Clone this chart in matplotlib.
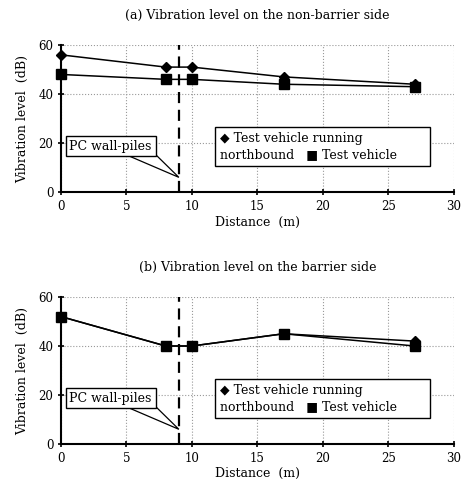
import numpy as np
import matplotlib.pyplot as plt
from matplotlib.patches import Polygon

distance = [0, 8, 10, 17, 27]
# (a) non-barrier side
a_north = [56, 51, 51, 47, 44]
a_test = [48, 46, 46, 44, 43]
# (b) barrier side
b_north = [52, 40, 40, 45, 42]
b_test = [52, 40, 40, 45, 40]

titles = ['(a) Vibration level on the non-barrier side',
          '(b) Vibration level on the barrier side']
wall_x = 9

plt.rcParams['font.family'] = ['DejaVu Serif', 'DejaVu Sans']

fig = plt.figure(figsize=(4.69, 4.95), dpi=100)
ax_a = fig.add_axes([0.130, 0.612, 0.838, 0.297])
ax_b = fig.add_axes([0.130, 0.103, 0.838, 0.297])

for ax, north, test, title in [(ax_a, a_north, a_test, titles[0]),
                               (ax_b, b_north, b_test, titles[1])]:
    ax.plot(distance, north, color='black', lw=1.1, marker='D', ms=5.5,
            zorder=3, clip_on=False)
    ax.plot(distance, test, color='black', lw=1.1, marker='s', ms=7,
            zorder=3, clip_on=False)
    ax.set_xlim(0, 30)
    ax.set_ylim(0, 60)
    ax.set_xticks(np.arange(0, 31, 5))
    ax.set_yticks([0, 20, 40, 60])
    ax.grid(True, color='#999999', linestyle=':', linewidth=0.8)
    for s in ['top', 'right']:
        ax.spines[s].set_visible(False)
    for s in ['left', 'bottom']:
        ax.spines[s].set_linewidth(1.5)
    ax.tick_params(labelsize=8.5, width=1.2, length=4, direction='inout')
    ax.set_xlabel('Distance  (m)', fontsize=9, labelpad=2)
    ax.set_ylabel('Vibration level  (dB)', fontsize=9, labelpad=7)
    ax.set_title(title, fontsize=9, pad=19)
    ax.axvline(wall_x, color='black', lw=1.6, ls=(0, (5, 3)), zorder=2)

    # callout pointing at the wall
    ax.add_patch(Polygon([(4.2, 17), (6.9, 17), (wall_x, 6)], closed=True,
                         fc='white', ec='black', lw=0.9, zorder=4))
    ax.text(0.65, 18.7, 'PC wall-piles', fontsize=9, va='center', ha='left',
            zorder=5,
            bbox=dict(boxstyle='square,pad=0.3', fc='white', ec='black', lw=1.0))

    ax.text(0.405, 0.31,
            '\u25c6 Test vehicle running\nnorthbound   \u25a0 Test vehicle       ',
            transform=ax.transAxes, fontsize=9, va='center', ha='left',
            linespacing=1.3, zorder=5,
            bbox=dict(boxstyle='square,pad=0.4', fc='white', ec='black', lw=1.0))

fig.savefig('out.png', dpi=100)
